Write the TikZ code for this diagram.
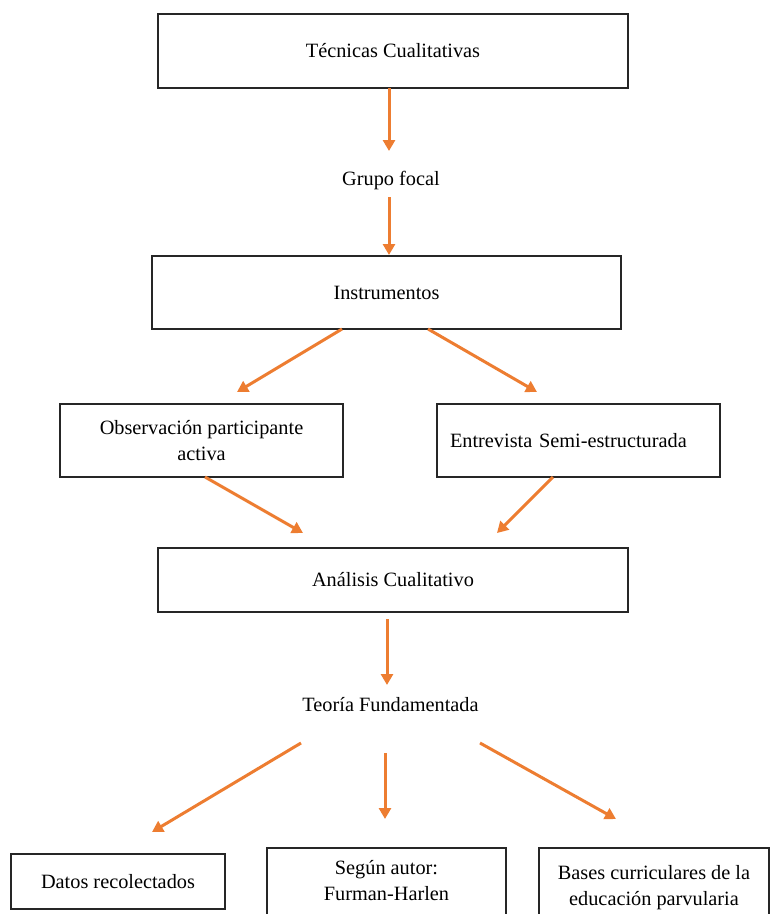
\documentclass[tikz,border=0pt]{standalone}
\usepackage{fontspec}
\setmainfont{Liberation Serif}
\usetikzlibrary{arrows.meta}
\definecolor{arrorange}{HTML}{ED7D31}
\newcommand\dfs{\fontsize{20.3pt}{26pt}\selectfont}
\begin{document}
\begin{tikzpicture}[x=1pt,y=-1pt,
  box/.style={draw=black!85, line width=1.6pt, inner sep=0pt, font=\dfs, align=center},
  lbl/.style={inner sep=0pt, font=\dfs},
  arr/.style={draw=arrorange, line width=3pt, -{Triangle[length=11pt,width=12pt]}}]
\useasboundingbox (0,0) rectangle (771,914);

% boxes and labels
\node[box, minimum width=470, minimum height=74] (tec) at (393,51) {Técnicas Cualitativas};
\node[lbl] (grupo) at (391,181) {Grupo focal};
\node[box, minimum width=469, minimum height=73] (ins) at (386.5,292.5) {Instrumentos};
\node[box, minimum width=283, minimum height=73] (obs) at (201.5,440.5) {Observación participante\\activa};
\node[box, minimum width=283, minimum height=73, text width=257, align=left, inner xsep=13] (ent) at (578.5,440.5) {Entrevista Semi-estructurada};
\node[box, minimum width=470, minimum height=64] (ana) at (393,580) {Análisis Cualitativo};
\node[lbl] (teo) at (390.5,705) {Teoría Fundamentada};
\node[box, minimum width=214, minimum height=55] (dat) at (118,881.5) {Datos recolectados};
\node[box, anchor=north, minimum width=239, inner ysep=13, text depth=80pt] (seg) at (386.5,847) {Según autor:\\Furman-Harlen};
\node[box, anchor=north, minimum width=230, inner ysep=18, text depth=80pt] (bas) at (654,847) {Bases curriculares de la\\educación parvularia};

% connector end points
\coordinate (a1s) at (389,88);   \coordinate (a1e) at (389,151);
\coordinate (a2s) at (389,197);  \coordinate (a2e) at (389,255);
\coordinate (a3s) at (342,329);  \coordinate (a3e) at (237,392);
\coordinate (a4s) at (428,329);  \coordinate (a4e) at (537,392);
\coordinate (a5s) at (205,477);  \coordinate (a5e) at (303,533);
\coordinate (a6s) at (553,477);  \coordinate (a6e) at (497,533);
\coordinate (a7s) at (387,619);  \coordinate (a7e) at (387,685);
\coordinate (a8s) at (301,743);  \coordinate (a8e) at (152,832);
\coordinate (a9s) at (385,753);  \coordinate (a9e) at (385,819);
\coordinate (a10s) at (480,743); \coordinate (a10e) at (616,819);

\draw[arr] (a1s) -- (a1e);
\draw[arr] (a2s) -- (a2e);
\draw[arr] (a3s) -- (a3e);
\draw[arr] (a4s) -- (a4e);
\draw[arr] (a5s) -- (a5e);
\draw[arr] (a6s) -- (a6e);
\draw[arr] (a7s) -- (a7e);
\draw[arr] (a8s) -- (a8e);
\draw[arr] (a9s) -- (a9e);
\draw[arr] (a10s) -- (a10e);
\end{tikzpicture}
\end{document}
